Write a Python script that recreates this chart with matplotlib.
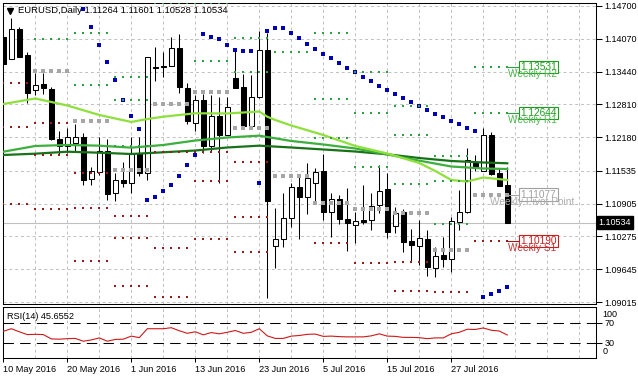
import matplotlib
matplotlib.use("Agg")
import matplotlib.pyplot as plt
from matplotlib.lines import Line2D
from matplotlib.transforms import blended_transform_factory
import numpy as np

plt.rcParams["font.family"] = ["Liberation Sans", "DejaVu Sans"]

nan = np.nan

# ─── Data (daily bars, 10 May .. 5 Aug 2016) ────────────────────────────────

opens = [
    1.14105, 1.13688, 1.14252, 1.13759, 1.13087, 1.13196, 1.13100, 1.12140,
    1.12018, 1.12064, 1.12190, 1.11372, 1.11518, 1.11916, 1.11104, 1.11359,
    1.11296, 1.11858, 1.11488, 1.13529, 1.13523, 1.13548, 1.13888, 1.13120,
    1.12459, 1.12895, 1.12018, 1.12588, 1.12223, 1.13312, 1.13139, 1.12396,
    1.12947, 1.13855, 1.10098, 1.10220, 1.10624, 1.11219, 1.11038, 1.11296,
    1.11532, 1.10739, 1.10988, 1.10610, 1.10489, 1.10591, 1.10591, 1.10879,
    1.11180, 1.10476, 1.10739, 1.10188, 1.10098, 1.10220, 1.09675, 1.09919,
    1.09836, 1.10558, 1.10739, 1.11691, 1.11538, 1.12223, 1.11488, 1.11264]
highs = [
    1.14143, 1.14464, 1.14302, 1.13822, 1.13408, 1.13408, 1.13150, 1.12300,
    1.12363, 1.12428, 1.12256, 1.11614, 1.12190, 1.12150, 1.11488, 1.11710,
    1.12190, 1.12190, 1.13720, 1.13918, 1.13822, 1.14099, 1.14162, 1.13216,
    1.12991, 1.13010, 1.12991, 1.12958, 1.12958, 1.13855, 1.13394, 1.13375,
    1.14226, 1.14176, 1.10816, 1.11115, 1.11307, 1.11422, 1.11680, 1.11595,
    1.11858, 1.11115, 1.11071, 1.11200, 1.10739, 1.11263, 1.11104, 1.11647,
    1.11499, 1.10846, 1.10802, 1.10412, 1.10591, 1.10399, 1.10078, 1.10270,
    1.10654, 1.11167, 1.11968, 1.11839, 1.12352, 1.12286, 1.11584, 1.11601]
lows = [
    1.13548, 1.13680, 1.13712, 1.12832, 1.12991, 1.13004, 1.12135, 1.11858,
    1.11883, 1.11902, 1.11263, 1.11263, 1.11455, 1.10975, 1.10956, 1.11230,
    1.11104, 1.11436, 1.11359, 1.13260, 1.13342, 1.13540, 1.13024, 1.12434,
    1.12306, 1.11872, 1.11902, 1.11296, 1.12220, 1.13130, 1.12390, 1.12390,
    1.12940, 1.09099, 1.09664, 1.10078, 1.10462, 1.10220, 1.10700, 1.10942,
    1.10591, 1.10270, 1.10508, 1.10002, 1.10144, 1.10508, 1.10399, 1.10720,
    1.10240, 1.10347, 1.09982, 1.09790, 1.09727, 1.09522, 1.09502, 1.09694,
    1.09587, 1.10399, 1.10730, 1.11532, 1.11530, 1.11460, 1.11245, 1.10528]
closes = [
    1.13586, 1.14252, 1.13715, 1.13035, 1.13183, 1.13120, 1.12140, 1.12012,
    1.12179, 1.12190, 1.11359, 1.11538, 1.11916, 1.11090, 1.11359, 1.11296,
    1.11872, 1.11488, 1.13715, 1.13510, 1.13548, 1.13888, 1.13139, 1.12498,
    1.12895, 1.12018, 1.12588, 1.12223, 1.12755, 1.13131, 1.12396, 1.12947,
    1.13855, 1.10962, 1.10226, 1.10624, 1.11219, 1.11038, 1.11392, 1.11518,
    1.10739, 1.11000, 1.10604, 1.10528, 1.10572, 1.10558, 1.10866, 1.11154,
    1.10355, 1.10720, 1.10174, 1.10111, 1.10240, 1.09694, 1.09906, 1.09836,
    1.10572, 1.10739, 1.11743, 1.11614, 1.12223, 1.11468, 1.11250, 1.10534]

# Parabolic SAR, from bar 10 on
sar_first = 10
sar = [
    1.14642, 1.14302, 1.13951, 1.13625, 1.13279, 1.12895, 1.12588, 1.12338,
    1.10975, 1.11027, 1.11148, 1.11263, 1.11436, 1.11647, 1.11839,
    1.14162, 1.14110, 1.14066, 1.13951, 1.13855, 1.13836, 1.13836,
    1.11307,
    1.14220, 1.14277, 1.14277, 1.14176, 1.14080, 1.13970, 1.13874, 1.13778,
    1.13696, 1.13600, 1.13510, 1.13433, 1.13331, 1.13260, 1.13164, 1.13087,
    1.13004, 1.12940, 1.12862, 1.12780, 1.12703, 1.12621, 1.12563, 1.12486,
    1.12428, 1.12358, 1.12300,
    1.09118, 1.09170, 1.09228, 1.09304]

# Moving averages (read at selected bars)
ma_fast_bars = [0, 4, 8, 12, 16, 18, 20, 24, 28, 30, 32, 33, 34, 36, 40, 44,
                48, 52, 54, 56, 58, 60, 63]
ma_fast = [1.12818, 1.12924, 1.12789, 1.12607, 1.12473, 1.12530, 1.12574,
           1.12640, 1.12636, 1.12655, 1.12674, 1.12574, 1.12511, 1.12405,
           1.12223, 1.12012, 1.11868, 1.11685, 1.11532, 1.11359, 1.11330,
           1.11407, 1.11359]
ma_mid_bars = [0, 4, 8, 12, 16, 20, 24, 28, 32, 36, 40, 44, 48, 52, 56, 60, 63]
ma_mid = [1.11902, 1.12012, 1.12031, 1.12018, 1.11980, 1.12031, 1.12117,
          1.12175, 1.12210, 1.12108, 1.12041, 1.11964, 1.11849, 1.11730,
          1.11618, 1.11580, 1.11570]
ma_slow = [1.11839, 1.11864, 1.11902, 1.11883, 1.11858, 1.11891, 1.11925,
           1.11983, 1.12018, 1.11983, 1.11945, 1.11906, 1.11852, 1.11781,
           1.11724, 1.11695, 1.11680]

# Weekly pivot levels (first bar of each week)
week_start = [-1, 4, 9, 14, 19, 24, 29, 34, 39, 44, 49, 54, 59]
piv_p  = [nan, 1.1345, 1.1250, 1.1155, 1.1281, 1.1305, 1.1235, 1.1143,
          1.1091, 1.1080, 1.1072, 1.1002, 1.11077]
piv_r1 = [nan, 1.1407, 1.1318, 1.1201, 1.1475, 1.1364, 1.1344, 1.1382,
          1.1216, 1.1160, 1.1129, 1.1052, 1.12644]
piv_r2 = [nan, nan, 1.1419, 1.1290, nan, 1.1475, 1.1409, nan,
          1.1292, 1.1265, 1.1222, 1.1134, 1.13531]
piv_r3 = [nan, nan, nan, 1.1333, nan, nan, nan, nan,
          1.1418, 1.1344, 1.1278, 1.1182, nan]
piv_s1 = [1.1322, 1.1245, 1.1150, 1.1067, 1.1189, 1.1189, 1.1171, nan,
          1.1014, 1.0976, 1.0979, 1.0921, 1.10190]
piv_s2 = [1.1238, 1.1183, 1.1082, 1.1024, 1.1006, 1.1134, 1.1065, nan,
          nan, nan, 1.0923, nan, nan]
piv_s3 = [1.1090, 1.1080, 1.0981, 1.0933, 1.0912, 1.1023, 1.0998, nan,
          nan, nan, nan, nan, nan]

rsi = [53, 58, 52, 46.5, 47, 46.5, 38, 37.5, 38.5, 39,
       33.5, 36, 40, 33.5, 37, 37.5, 43.5, 40.5, 58, 58,
       58, 60, 54, 49, 52, 46, 50.5, 48, 51, 54.5,
       49, 51, 58, 44, 39, 39, 43.5, 44.7, 47, 47.5,
       43, 43.5, 42.5, 42, 42, 42, 44, 48, 43.5, 43,
       41, 41, 40.5, 38.5, 40, 40, 48, 51, 57, 56.5,
       59.5, 55, 53.5, 45.6552]

price_ticks = [1.14700, 1.14070, 1.13440, 1.12810, 1.12180,
               1.11535, 1.10905, 1.10275, 1.09645, 1.09015]
date_bars = [0, 8, 16, 24, 32, 40, 48, 56]
date_labels = ["10 May 2016", "20 May 2016", "1 Jun 2016", "13 Jun 2016",
               "23 Jun 2016", "5 Jul 2016", "15 Jul 2016", "27 Jul 2016"]

# ─── Colors ──────────────────────────────────────────────────────────────────

GRID   = "#C0C0C0"
LIME   = "#8EE03A"
MID    = "#3DAF3D"
DARK   = "#177317"
SAR_C  = "#0000B8"
R_DOT  = "#2F9E44"
S_DOT  = "#9B1B1B"
P_DOT  = "#A6A6A6"
R_LBL  = "#1E9E1E"
S_LBL  = "#C81E1E"
P_LBL  = "#A0A0A0"

# ─── Layout ──────────────────────────────────────────────────────────────────

W, H = 638, 379
fig = plt.figure(figsize=(W / 100, H / 100), dpi=100, facecolor="white")


def px_box(l, t, r, b):
    return [l / W, 1 - b / H, (r - l) / W, (b - t) / H]


ax = fig.add_axes(px_box(2.7, 2.7, 596, 304))
ax_r = fig.add_axes(px_box(2.7, 307.3, 596, 358.3))

x_lo, x_hi = -0.075, 74.09
for a in (ax, ax_r):
    a.set_xlim(x_lo, x_hi)
    for s in a.spines.values():
        s.set_linewidth(0.75)
        s.set_color("black")
    for b in range(0, 75, 4):
        a.axvline(b, color=GRID, lw=0.7, ls=(0, (3, 3)), zorder=0)

ax.set_ylim(1.08978, 1.14763)

# ─── Main panel ──────────────────────────────────────────────────────────────

for p in price_ticks:
    ax.axhline(p, color=GRID, lw=0.7, ls=(0, (3, 3)), zorder=0)
ax.axhline(closes[-1], color=GRID, lw=0.8, zorder=1)

x = np.arange(len(opens))
o, h, l, c = (np.array(v) for v in (opens, highs, lows, closes))
ax.vlines(x, l, h, color="black", lw=0.75, zorder=3)
body_lo = np.minimum(o, c)
body_h = np.maximum(np.abs(c - o), 0.00001)
face = ["white" if cc >= oo else "black" for oo, cc in zip(o, c)]
ax.bar(x, body_h, bottom=body_lo, width=0.62, color=face,
       edgecolor="black", linewidth=0.75, zorder=4)

ax.plot(ma_mid_bars, ma_slow, color=DARK, lw=1.6, zorder=5)
ax.plot(ma_mid_bars, ma_mid, color=MID, lw=1.6, zorder=5)
ax.plot(ma_fast_bars, ma_fast, color=LIME, lw=1.6, zorder=5)

ax.plot(np.arange(sar_first, sar_first + len(sar)), sar, ls="none",
        marker="s", ms=2.4, mew=0, color=SAR_C, zorder=6)

levels = [(piv_r3, R_DOT, 1.6), (piv_r2, R_DOT, 1.6), (piv_r1, R_DOT, 1.6),
          (piv_p, P_DOT, 2.4),
          (piv_s1, S_DOT, 1.6), (piv_s2, S_DOT, 1.6), (piv_s3, S_DOT, 1.6)]
for vals, col, ms in levels:
    for ws, v in zip(week_start, vals):
        if np.isnan(v):
            continue
        xs = np.arange(ws, ws + 5)
        ax.plot(xs, [v] * 5, ls="none", marker="s", ms=ms, mew=0,
                color=col, zorder=6)

# current week labels
box_x, txt_x = 66.9, 66.1
for lvl, name, dot, col, wcol in [
    (piv_r2[-1], "Weekly R2", R_DOT, R_LBL, "#4DB84D"),
    (piv_r1[-1], "Weekly R1", R_DOT, R_LBL, "#4DB84D"),
    (piv_p[-1],  "Weekly Pivot Point", P_DOT, P_LBL, "#ADADAD"),
    (piv_s1[-1], "Weekly S1", S_DOT, S_LBL, "#C83232"),
]:
    ax.plot([63, 64.3], [lvl, lvl], color=dot, lw=0.8, zorder=6)
    ax.text(box_x, lvl, f"{lvl:.5f}", color=col, fontsize=7.3,
            ha="center", va="center", zorder=7,
            bbox=dict(boxstyle="square,pad=0.12", fc="white", ec=col, lw=0.8))
    ax.text(txt_x, lvl - 0.00135, name, color=wcol, fontsize=7.3,
            ha="center", va="center", zorder=8)

ax.yaxis.tick_right()
ax.set_yticks(price_ticks)
ax.set_yticklabels([f"{p:.5f}" for p in price_ticks])
ax.tick_params(axis="y", length=4, width=0.75, pad=2, labelsize=6.5)
ax.set_xticks([])

blend = blended_transform_factory(ax.transAxes, ax.transData)
ax.text(1.0045, closes[-1], f"{closes[-1]:.5f}", transform=blend,
        color="white", fontsize=6.5, va="center", ha="left",
        bbox=dict(boxstyle="square,pad=0.22", fc="black", ec="black"))

# header
fig.add_artist(Line2D([9.5 / W], [1 - 10.5 / H], marker="v", ms=4.5,
                      color="black", transform=fig.transFigure))
fig.text(18 / W, 1 - 10.5 / H,
         f"EURUSD,Daily {opens[-1]:.5f} {highs[-1]:.5f} "
         f"{lows[-1]:.5f} {closes[-1]:.5f}",
         fontsize=6.8, va="center", ha="left", color="black")

# ─── RSI panel ───────────────────────────────────────────────────────────────

ax_r.set_ylim(0, 100)
for lv in (70, 30):
    ax_r.axhline(lv, color="black", lw=0.75, ls=(0, (10, 6)), zorder=1)
ax_r.plot(x, rsi, color="#D01818", lw=0.8, zorder=3)
ax_r.text(0.008, 0.82, f"RSI(14) {rsi[-1]:.4f}", transform=ax_r.transAxes,
          fontsize=6.6, va="center", ha="left")

ax_r.yaxis.tick_right()
ax_r.set_yticks([70, 30])
ax_r.set_yticklabels(["70", "30"])
ax_r.tick_params(axis="y", length=4, width=0.75, pad=2, labelsize=6.5)
blend_r = blended_transform_factory(ax_r.transAxes, ax_r.transData)
ax_r.text(1.0105, 85, "100", transform=blend_r, fontsize=6.5,
          va="center", ha="left")
ax_r.text(1.0105, 13, "0", transform=blend_r, fontsize=6.5,
          va="center", ha="left")

ax_r.set_xticks(date_bars)
ax_r.set_xticklabels(date_labels, ha="left")
ax_r.tick_params(axis="x", length=3, width=0.75, pad=1.5, labelsize=6.6)

fig.savefig("out.png", dpi=100, facecolor="white")
